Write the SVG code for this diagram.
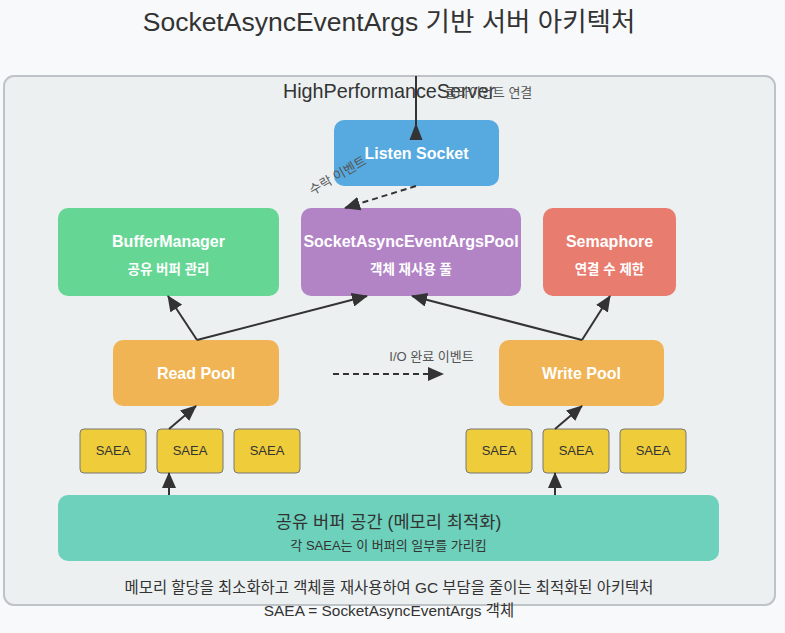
<svg xmlns="http://www.w3.org/2000/svg" width="785" height="633" viewBox="0 0 785 633">
<style>
text{font-family:"Liberation Sans","Noto Sans CJK KR",Arial,sans-serif}
.t{fill:#fff;font-size:16px;font-weight:bold;text-anchor:middle}
.s{fill:#fff;font-size:13.5px;font-weight:bold;text-anchor:middle}
.saea rect{fill:#efcc3a;stroke:#777;stroke-width:1}
.saea text{fill:#333;font-size:13px;text-anchor:middle}
.lbl{fill:#555;font-size:13px}
.c{stroke:#333;stroke-width:2;fill:none}
.d{stroke-dasharray:6,4}
</style>
<defs>
<marker id="ah" markerUnits="userSpaceOnUse" markerWidth="16" markerHeight="14" refX="15" refY="7" orient="auto">
<path d="M0,0 L16,7 L0,14 Z" fill="#333"/>
</marker>
</defs>
<rect width="785" height="633" fill="#f8f9fa"/>
<text x="389" y="31" font-size="26.5" fill="#333" text-anchor="middle">SocketAsyncEventArgs 기반 서버 아키텍처</text>
<g id="server">
<rect x="4" y="76" width="771" height="529" rx="10" fill="#ecf0f1" stroke="#bdc3c7" stroke-width="2"/>
<text x="389" y="98" font-size="19.8" fill="#333" text-anchor="middle">HighPerformanceServer</text>
</g>
<g id="listen">
<rect x="334" y="120" width="165" height="66" rx="10" fill="#56aae0"/>
<text class="t" x="416.5" y="159">Listen Socket</text>
</g>
<g id="buffer">
<rect x="58" y="208" width="221" height="88" rx="10" fill="#66d695"/>
<text class="t" x="168.5" y="247">BufferManager</text>
<text class="s" x="168.5" y="274">공유 버퍼 관리</text>
</g>
<g id="pool">
<rect x="301" y="208" width="220" height="88" rx="10" fill="#b284c6"/>
<text class="t" x="411" y="247">SocketAsyncEventArgsPool</text>
<text class="s" x="411" y="274">객체 재사용 풀</text>
</g>
<g id="semaphore">
<rect x="543" y="208" width="133" height="88" rx="10" fill="#e87c6f"/>
<text class="t" x="609.5" y="247">Semaphore</text>
<text class="s" x="609.5" y="274">연결 수 제한</text>
</g>
<g id="readpool">
<rect x="113" y="340" width="166" height="66" rx="10" fill="#f0b454"/>
<text class="t" x="196" y="379">Read Pool</text>
</g>
<g id="writepool">
<rect x="499" y="340" width="165" height="66" rx="10" fill="#f0b454"/>
<text class="t" x="581.5" y="379">Write Pool</text>
</g>
<g id="saea-r1" class="saea"><rect x="80" y="429" width="66" height="44" rx="4"/><text x="113" y="455">SAEA</text></g>
<g id="saea-r2" class="saea"><rect x="157" y="429" width="66" height="44" rx="4"/><text x="190" y="455">SAEA</text></g>
<g id="saea-r3" class="saea"><rect x="234" y="429" width="66" height="44" rx="4"/><text x="267" y="455">SAEA</text></g>
<g id="saea-w1" class="saea"><rect x="466" y="429" width="66" height="44" rx="4"/><text x="499" y="455">SAEA</text></g>
<g id="saea-w2" class="saea"><rect x="543" y="429" width="66" height="44" rx="4"/><text x="576" y="455">SAEA</text></g>
<g id="saea-w3" class="saea"><rect x="620" y="429" width="66" height="44" rx="4"/><text x="653" y="455">SAEA</text></g>
<g id="shared">
<rect x="58" y="495" width="661" height="66" rx="10" fill="#6dd1bc"/>
<text x="388.5" y="528" font-size="17.6" fill="#333" text-anchor="middle">공유 버퍼 공간 (메모리 최적화)</text>
<text x="388.5" y="550" font-size="13" fill="#333" text-anchor="middle">각 SAEA는 이 버퍼의 일부를 가리킴</text>
</g>
<g id="connectors">
<line class="c" x1="416" y1="76" x2="416" y2="140"/>
<path d="M416,123 L422.5,140 L409.5,140 Z" fill="#333"/>
<text class="lbl" x="445" y="97">클라이언트 연결</text>
<line class="c d" x1="416" y1="186" x2="345" y2="208" marker-end="url(#ah)"/>
<text class="lbl" x="338" y="180" text-anchor="middle" transform="rotate(-30 338 176)">수락 이벤트</text>
<line class="c" x1="197" y1="340" x2="168" y2="296" marker-end="url(#ah)"/>
<line class="c" x1="197" y1="340" x2="367" y2="296" marker-end="url(#ah)"/>
<line class="c" x1="582" y1="340" x2="412" y2="296" marker-end="url(#ah)"/>
<line class="c" x1="582" y1="340" x2="610" y2="296" marker-end="url(#ah)"/>
<line class="c d" x1="333" y1="374" x2="443" y2="374" marker-end="url(#ah)"/>
<text class="lbl" x="431.5" y="361" text-anchor="middle">I/O 완료 이벤트</text>
<line class="c" x1="169" y1="429" x2="196" y2="406" marker-end="url(#ah)"/>
<line class="c" x1="555" y1="429" x2="582" y2="406" marker-end="url(#ah)"/>
<line class="c" x1="169" y1="495" x2="169" y2="473" marker-end="url(#ah)"/>
<line class="c" x1="555" y1="495" x2="555" y2="473" marker-end="url(#ah)"/>
</g>
<text x="389" y="593" font-size="15.4" fill="#333" text-anchor="middle">메모리 할당을 최소화하고 객체를 재사용하여 GC 부담을 줄이는 최적화된 아키텍처</text>
<text x="389" y="616" font-size="15.4" fill="#333" text-anchor="middle">SAEA = SocketAsyncEventArgs 객체</text>
</svg>
